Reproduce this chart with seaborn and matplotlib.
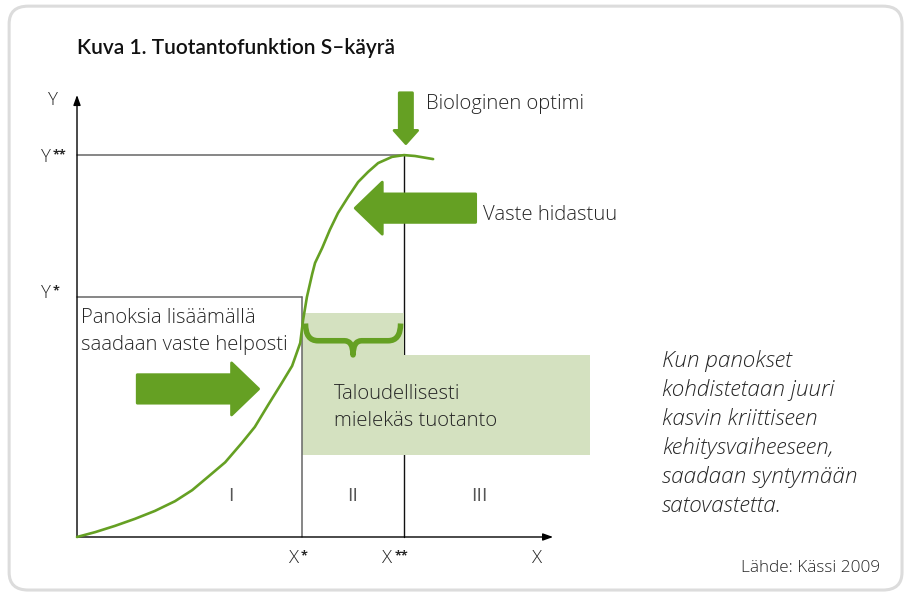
import matplotlib
matplotlib.use('Agg')
import matplotlib.pyplot as plt
import seaborn as sns
from matplotlib.patches import Rectangle, FancyBboxPatch, PathPatch
from matplotlib.path import Path

# ===== Data: S-curve of the production function =====
curve_x = [0.0, 3.8, 7.9, 12.1, 16.3, 20.5, 24.1, 27.4, 31.0, 34.5, 37.2, 40.0,
           42.7, 45.0, 46.7, 47.3, 48.1, 49.2, 49.8, 51.3, 52.9, 54.6, 56.7,
           58.8, 60.9, 63.0, 65.9, 68.4, 70.7, 74.5]
curve_y = [0.0, 1.1, 2.5, 4.1, 5.9, 8.1, 10.6, 13.6, 16.9, 21.3, 24.9, 29.9,
           34.6, 38.7, 43.9, 49.1, 54.3, 59.5, 62.0, 65.4, 69.5, 73.3, 76.9,
           80.3, 82.6, 84.6, 86.0, 86.4, 86.2, 85.5]

x_star, x_2star = 47.1, 68.4
y_star, y_2star = 54.3, 86.4
box_right = 107.3
box_low, box_high = 18.6, 41.2
band_high = 50.7

region_labels = ['I', 'II', 'III']
region_x = [32.2, 57.7, 84.1]
x_labels = [('X', '*'), ('X', '**'), ('X', '')]
y_labels = [('Y', '*'), ('Y', '**')]

title = 'Kuva 1. Tuotantofunktion S\u2013käyrä'
note_lines = ['Kun panokset', 'kohdistetaan juuri', 'kasvin kriittiseen',
              'kehitysvaiheeseen,', 'saadaan syntymään', 'satovastetta.']
source = 'Lähde: Kässi 2009'

green = '#65a023'
light_green = '#d4e1c0'
txt = '#262626'

sns.set_theme(style='white')
plt.rcParams['font.family'] = ['Open Sans', 'DejaVu Sans']

fig = plt.figure(figsize=(9.09, 5.93), dpi=100)
ax = fig.add_axes([0, 0, 1, 1])
ax.set_xlim(-16.11, 174.06)
ax.set_ylim(-12.67, 121.49)
ax.axis('off')

# frame round the whole figure
ax.add_patch(FancyBboxPatch((-14.2, -12.0), 186.8, 132.1,
                            boxstyle='round,pad=0,rounding_size=4',
                            fc='none', ec='#dcdcdc', lw=2.2, zorder=0))

ax.text(0, 109.3, title, fontsize=15, fontweight='semibold', color='#111111',
        family=['Lato', 'DejaVu Sans'])

# guide lines
ax.plot([0, x_2star], [y_2star, y_2star], color='#666666', lw=1.1, zorder=1)
ax.plot([x_2star, x_2star], [0, y_2star], color='#111111', lw=1.0, zorder=1)
ax.plot([0, x_star], [y_star, y_star], color='#666666', lw=1.1, zorder=4)
ax.plot([x_star, x_star], [0, y_star], color='#666666', lw=1.1, zorder=4)

# shaded area "economically sensible"
ax.add_patch(Rectangle((x_star, box_high), x_2star - x_star, band_high - box_high,
                       fc=light_green, ec='none', zorder=2))
ax.add_patch(Rectangle((x_star, box_low), box_right - x_star, box_high - box_low,
                       fc=light_green, ec='none', zorder=2))

# brace
mid = (x_star + x_2star) / 2
bl, br = x_star + 0.7, x_2star - 0.7
top, yb, tip = 48.3, 44.4, 41.2
verts = [(bl, top), (bl, yb), (bl + 2.6, yb), (mid - 1.8, yb), (mid, yb), (mid, tip),
         (mid, yb), (mid + 1.8, yb), (br - 2.6, yb), (br, yb), (br, top)]
codes = [Path.MOVETO, Path.CURVE3, Path.CURVE3, Path.LINETO, Path.CURVE3, Path.CURVE3,
         Path.CURVE3, Path.CURVE3, Path.LINETO, Path.CURVE3, Path.CURVE3]
ax.add_patch(PathPatch(Path(verts, codes), fc='none', ec=green, lw=4.0,
                       capstyle='butt', joinstyle='round', zorder=5))

# axes with arrow heads
for end in [(99.6, 0), (0, 100)]:
    ax.annotate('', xy=end, xytext=(0, 0),
                arrowprops=dict(arrowstyle='-|>,head_length=0.5,head_width=0.18',
                                color='black', lw=1.0, shrinkA=0, shrinkB=0), zorder=6)

# S-curve
sns.lineplot(x=curve_x, y=curve_y, ax=ax, color=green, lw=1.9, zorder=7,
             solid_joinstyle='round')


def big_arrow(tail, head, body, hw, hl):
    ax.annotate('', xy=head, xytext=tail, zorder=8,
                arrowprops=dict(arrowstyle=f'simple,head_length={hl},head_width={hw},tail_width={body}',
                                mutation_scale=1, fc=green, ec=green, lw=2.0,
                                joinstyle='round', shrinkA=0, shrinkB=0))


big_arrow((12.6, 33.5), (38.0, 33.5), 20.5, 37.5, 19.5)
big_arrow((83.4, 74.4), (58.2, 74.4), 20.5, 37.5, 19.5)
big_arrow((68.8, 100.5), (68.8, 89.0), 9.5, 17.0, 9.5)

# axis labels, small bold stars after the letter
lab_kw = dict(fontsize=13.5, color=txt, fontweight='light')


def axis_label(x, y, letter, stars):
    t = ax.text(x, y, letter, ha='left', **lab_kw)
    if stars:
        ax.annotate(stars, xy=(1, 0), xycoords=t, xytext=(1.2, 5.5),
                    textcoords='offset points', fontsize=9, fontweight='bold',
                    color=txt, va='baseline')


ax.text(-5.0, 97.7, 'Y', ha='center', **lab_kw)
axis_label(-7.5, 84.8, *y_labels[1])
axis_label(-7.5, 54.1, *y_labels[0])
for (letter, stars), xp in zip(x_labels, [44.3, 63.9, 95.1]):
    axis_label(xp, -5.9, letter, stars)
for lab, xp in zip(region_labels, region_x):
    ax.text(xp, 8.1, lab, ha='center', fontsize=14, color='#555555')

txt_kw = dict(fontsize=14.6, color=txt, fontweight='light', zorder=9)
ax.text(0.84, 48.4, 'Panoksia lisäämällä', **txt_kw)
ax.text(0.84, 42.3, 'saadaan vaste helposti', **txt_kw)
ax.text(53.8, 31.2, 'Taloudellisesti', **txt_kw)
ax.text(53.8, 25.1, 'mielekäs tuotanto', **txt_kw)
ax.text(73.0, 96.8, 'Biologinen optimi', **txt_kw)
ax.text(84.9, 71.7, 'Vaste hidastuu', **txt_kw)

note_base = [38.5, 31.9, 25.3, 18.8, 12.2, 5.7]
for line, yb_ in zip(note_lines, note_base):
    ax.text(122.4, yb_, line, style='italic', fontsize=16.2, color=txt,
            fontweight='light')

ax.text(168.0, -7.9, source, fontsize=12.3, ha='right', color=txt, fontweight='light')

plt.savefig('out.png', dpi=100)
